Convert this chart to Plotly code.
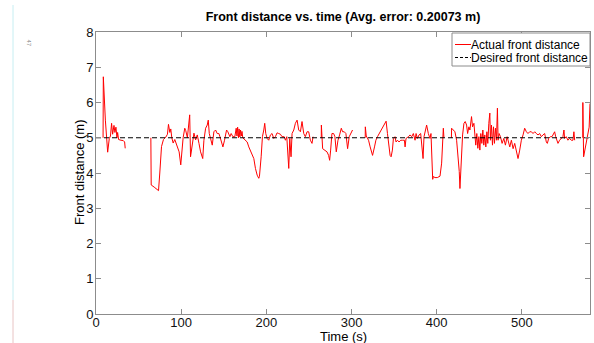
import plotly.graph_objects as go

# Measured front distance (m) vs. time (s); None marks dropouts in the log
time_s = [
    8.3, 8.6, 11.0, 12.5, 13.7, 15.6, 17.0, 18.3, 19.5, 21.1, 22.2, 23.4, 24.6, 25.4,
    26.5, 29.3, 32.0, 33.6, 34.3,
    None,
    64.4, 64.8, 68.3, 72.2, 73.4, 74.9, 76.9, 79.2, 82.0, 83.9, 85.1, 86.7, 87.8, 89.0,
    90.6, 92.5, 94.8, 97.6, 99.5, 100.7, 102.3, 104.2, 105.4, 107.3, 110.0, 111.0, 113.2,
    115.0, 117.0, 118.9, 120.9, 122.8, 125.3, 126.7, 128.7, 130.6, 131.8, 133.0, 134.5,
    136.5, 138.4, 140.4, 142.3, 144.3, 145.5, 147.0, 149.0, 150.9, 153.3, 154.8, 157.2,
    158.7, 160.7, 163.0, 164.6, 165.5, 166.3, 167.2, 168.0, 168.9, 169.7, 170.6, 171.4,
    172.3, 174.3, 177.5, 179.4, 182.1, 185.3, 187.2, 189.2, 191.1, 191.9, 193.9, 195.4,
    197.0, 198.1, 199.3, 200.9, 202.8, 204.8, 206.7, 208.7, 210.6, 212.6, 214.5, 216.5,
    218.4, 221.0, 222.4, 224.0, 226.3, 227.5, 229.0, 230.2, 232.2, 234.1, 236.1, 238.0,
    240.0, 241.9, 243.9, 245.8, 247.8, 249.7, 251.7, 253.6, 254.8,
    None,
    264.5, 264.6, 266.1, 268.5, 271.2, 273.1, 274.3, 275.5, 277.0, 279.0, 280.5, 282.1,
    284.1, 286.0, 288.0, 289.5, 291.5, 293.4, 295.4, 297.3, 299.3, 301.2,
    None,
    316.1, 316.2, 317.3, 320.0, 321.9, 324.7, 327.0, 328.6, 330.5, 332.5, 335.6, 338.7,
    340.6, 342.2, 343.4, 345.3, 346.5, 348.0, 349.2, 351.0, 352.3, 353.9, 355.8, 357.8,
    359.8, 362.1, 362.9, 364.0, 366.8, 368.7, 370.7, 372.6, 374.6, 375.8, 377.3, 379.3,
    381.2, 383.2, 384.0, 385.1, 386.7, 388.2, 390.2, 392.1, 393.3, 394.1, 395.3, 396.1,
    398.0, 400.7, 403.9, 405.8, 407.0, 407.8, 408.5,
    None,
    417.3, 417.5, 419.5, 421.4, 423.4, 425.3, 426.5, 427.3, 428.3, 429.2, 430.4, 432.0,
    433.5, 435.1, 436.3, 437.8, 439.0, 440.9, 442.1, 443.7, 444.8, 445.9, 447.1, 448.3,
    449.5, 450.7, 451.8, 453.0, 454.2, 455.3, 456.5, 457.7, 458.9, 460.0, 461.2, 462.4,
    463.1, 464.3, 465.5, 466.7, 467.8, 469.0, 470.2, 471.3, 472.1, 473.3, 474.9, 476.8,
    478.8, 480.7, 482.7, 483.8, 485.8, 487.7, 489.7, 491.6, 493.6, 495.5, 497.5, 499.4,
    501.4, 503.3, 505.3, 507.2, 509.2, 511.2, 513.1, 515.1, 517.0, 519.0, 520.9, 522.9,
    524.8, 526.8, 528.7, 529.9, 531.5, 533.5, 535.4, 537.3, 538.5, 539.7, 540.8, 542.4,
    544.3, 546.3, 548.2, 549.4, 550.2, 552.1, 554.1, 556.0, 558.0, 560.0, 561.1, 562.0,
    None,
    571.5, 571.6, 572.5, 574.4, 576.7, 579.0, 580.0,
]

actual_m = [
    5.0, 6.73, 5.5, 4.85, 4.59, 4.98, 5.05, 5.41, 5.1, 5.35, 5.15, 5.3, 5.0, 5.15,
    4.95, 4.93, 4.92, 4.88, 4.70,
    None,
    5.0, 3.66, 3.6, 3.52, 3.5, 4.0, 4.75, 4.95, 5.02, 5.1, 5.38, 5.15, 5.25, 5.0,
    4.85, 4.95, 4.8, 4.6, 4.23, 4.6, 5.0, 5.27, 5.2, 5.0, 5.65, 4.46, 4.9,
    5.13, 4.94, 5.08, 4.84, 4.6, 4.41, 4.93, 5.27, 5.36, 5.5, 5.12, 4.98,
    4.79, 5.17, 5.22, 5.12, 5.12, 5.03, 4.88, 4.74, 4.93, 5.22, 5.17, 5.03,
    5.12, 5.03, 5.03, 5.27, 5.05, 5.3, 5.0, 5.25, 5.02, 5.22, 5.05, 5.18,
    5.0, 4.95, 4.88, 4.74, 4.6, 4.41, 4.13, 3.94, 3.85, 3.9, 4.46, 5.03,
    5.22, 5.41, 5.12, 4.98, 4.93, 5.08, 5.12, 4.98, 5.03, 5.14, 5.12, 5.1,
    5.03, 5.03, 4.93, 5.03, 4.13, 4.98, 4.46, 5.12, 5.22, 5.41, 5.5, 5.22,
    5.17, 5.46, 5.12, 5.03, 5.17, 5.17, 4.93, 4.84, 5.03,
    None,
    5.0, 5.36, 4.69, 4.65, 4.6, 4.5, 4.36, 4.65, 5.12, 5.12, 5.03, 4.6,
    4.93, 5.08, 5.27, 5.17, 5.17, 5.12, 4.69, 5.03, 5.12, 5.22,
    None,
    5.0, 5.31, 5.05, 4.93, 4.74, 4.5, 4.74, 4.93, 5.03, 5.12, 5.27, 5.4,
    5.47, 5.12, 4.79, 4.5, 4.46, 4.65, 4.98, 5.03, 4.88, 4.93, 4.88, 4.93,
    4.93, 4.93, 4.74, 4.98, 5.03, 5.08, 5.03, 5.12, 4.93, 5.12, 4.98, 5.08,
    5.12, 4.69, 4.41, 5.03, 5.22, 5.36, 5.12, 4.98, 5.12, 4.46, 3.82, 3.9,
    3.87, 3.87, 3.91, 4.28, 5.03, 5.27, 5.0,
    None,
    5.0, 5.27, 5.22, 5.17, 4.93, 4.46, 4.04, 3.56, 4.1, 4.74, 5.08, 5.41,
    5.46, 5.36, 5.12, 5.31, 5.22, 5.6, 5.31, 5.41, 5.17, 4.79, 5.12, 4.7,
    5.03, 4.65, 5.12, 4.84, 5.22, 4.79, 5.08, 4.74, 5.17, 4.84, 5.41, 5.7,
    4.93, 5.36, 4.79, 5.31, 4.84, 5.27, 4.93, 5.84, 4.93, 5.12, 5.03, 4.84,
    4.98, 4.79, 5.03, 4.93, 4.74, 4.93, 4.69, 4.84, 4.65, 4.41, 4.65, 4.93,
    5.08, 5.27, 5.17, 5.12, 5.17, 5.17, 5.12, 5.17, 5.12, 5.08, 5.12, 5.03,
    5.08, 5.12, 4.88, 4.84, 4.98, 5.03, 5.03, 5.12, 5.17, 5.03, 4.93, 4.84,
    4.93, 4.98, 5.03, 5.22, 4.98, 5.03, 4.93, 4.98, 4.93, 4.93, 5.17, 4.93,
    None,
    5.0, 6.0, 4.46, 4.7, 5.03, 5.3, 5.97,
]

desired_time_s = [0, 580]
desired_m = [5.0, 5.0]

x_ticks = [0, 100, 200, 300, 400, 500]
y_ticks = [0, 1, 2, 3, 4, 5, 6, 7, 8]

series_names = ["Actual front distance", "Desired front distance"]
x_title = "Time (s)"
y_title = "Front distance (m)"

FONT = "Liberation Sans, Arial, Helvetica, sans-serif"
FRAME = "#8c8c8c"
W, H = 594, 343
ML, MR, MT, MB = 96, 4, 32, 29
PW, PH = W - ML - MR, H - MT - MB


def px_x(px):
    """Page x pixel -> paper coordinate."""
    return (px - ML) / PW


def px_y(py):
    """Page y pixel -> paper coordinate."""
    return (H - MB - py) / PH


fig = go.Figure()
fig.add_trace(go.Scatter(
    x=time_s, y=actual_m, mode="lines", name=series_names[0],
    line=dict(color="#ff0000", width=1), connectgaps=False, showlegend=False,
))
fig.add_trace(go.Scatter(
    x=desired_time_s, y=desired_m, mode="lines", name=series_names[1],
    line=dict(color="#000000", width=1, dash="5px,3px"), showlegend=False,
))

axis_common = dict(
    showline=True, linecolor=FRAME, linewidth=1, mirror="allticks",
    ticks="inside", ticklen=5, tickcolor=FRAME, showgrid=False, zeroline=False,
    automargin=False,
    tickfont=dict(family=FONT, size=13, color="#111111"),
)

fig.update_layout(
    width=W, height=H,
    margin=dict(l=ML, r=MR, t=MT, b=MB),
    paper_bgcolor="white", plot_bgcolor="white",
    font=dict(family=FONT, color="#000000"),
    title=dict(
        text="<b>Front distance vs. time (Avg. error: 0.20073 m)</b>",
        font=dict(family=FONT, size=12.5, color="#000000"),
        x=0.5, xref="paper", xanchor="center",
        y=1 - 17 / H, yref="container", yanchor="middle",
    ),
    xaxis=dict(range=[0, 580], tickvals=x_ticks,
               ticktext=[str(v) for v in x_ticks], ticklabelstandoff=-4,
               **axis_common),
    yaxis=dict(range=[0, 8], tickvals=y_ticks,
               ticktext=[str(v) for v in y_ticks], ticklabelstandoff=-1,
               **axis_common),
    showlegend=False,
)

# axis titles
fig.add_annotation(text=x_title, xref="paper", yref="paper",
                   x=px_x(343), y=px_y(336.5), xanchor="center", yanchor="middle",
                   showarrow=False, font=dict(family=FONT, size=13, color="#000000"))
fig.add_annotation(text=y_title, xref="paper", yref="paper",
                   x=px_x(79), y=px_y(173), xanchor="center", yanchor="middle",
                   textangle=-90, showarrow=False,
                   font=dict(family=FONT, size=13, color="#000000"))

# legend box in the upper-right corner of the axes
fig.add_shape(type="rect", xref="paper", yref="paper",
              x0=px_x(452), x1=px_x(590), y0=px_y(66), y1=px_y(33),
              line=dict(color=FRAME, width=1), fillcolor="white", layer="above")
legend_rows = [
    (series_names[0], 44.5, dict(color="#ff0000", width=1)),
    (series_names[1], 57.5, dict(color="#000000", width=1, dash="3px,2px")),
]
for label, row_y, style in legend_rows:
    fig.add_shape(type="line", xref="paper", yref="paper",
                  x0=px_x(455), x1=px_x(471), y0=px_y(row_y), y1=px_y(row_y),
                  line=style, layer="above")
    fig.add_annotation(text=label, xref="paper", yref="paper",
                       x=px_x(468.5), y=px_y(row_y), xanchor="left", yanchor="middle",
                       showarrow=False, font=dict(family=FONT, size=12, color="#000000"))

# thin marker strip at the far left of the page
fig.add_shape(type="line", xref="paper", yref="paper",
              x0=px_x(13), x1=px_x(13), y0=px_y(300), y1=px_y(5),
              line=dict(color="#c6eef2", width=1))
fig.add_shape(type="line", xref="paper", yref="paper",
              x0=px_x(13), x1=px_x(13), y0=px_y(343), y1=px_y(300),
              line=dict(color="#e8c4c4", width=1))
fig.add_annotation(text="47", xref="paper", yref="paper",
                   x=px_x(23), y=px_y(37), showarrow=False,
                   textangle=90, font=dict(family=FONT, size=6, color="#888888"))

fig.write_html("out.html")
